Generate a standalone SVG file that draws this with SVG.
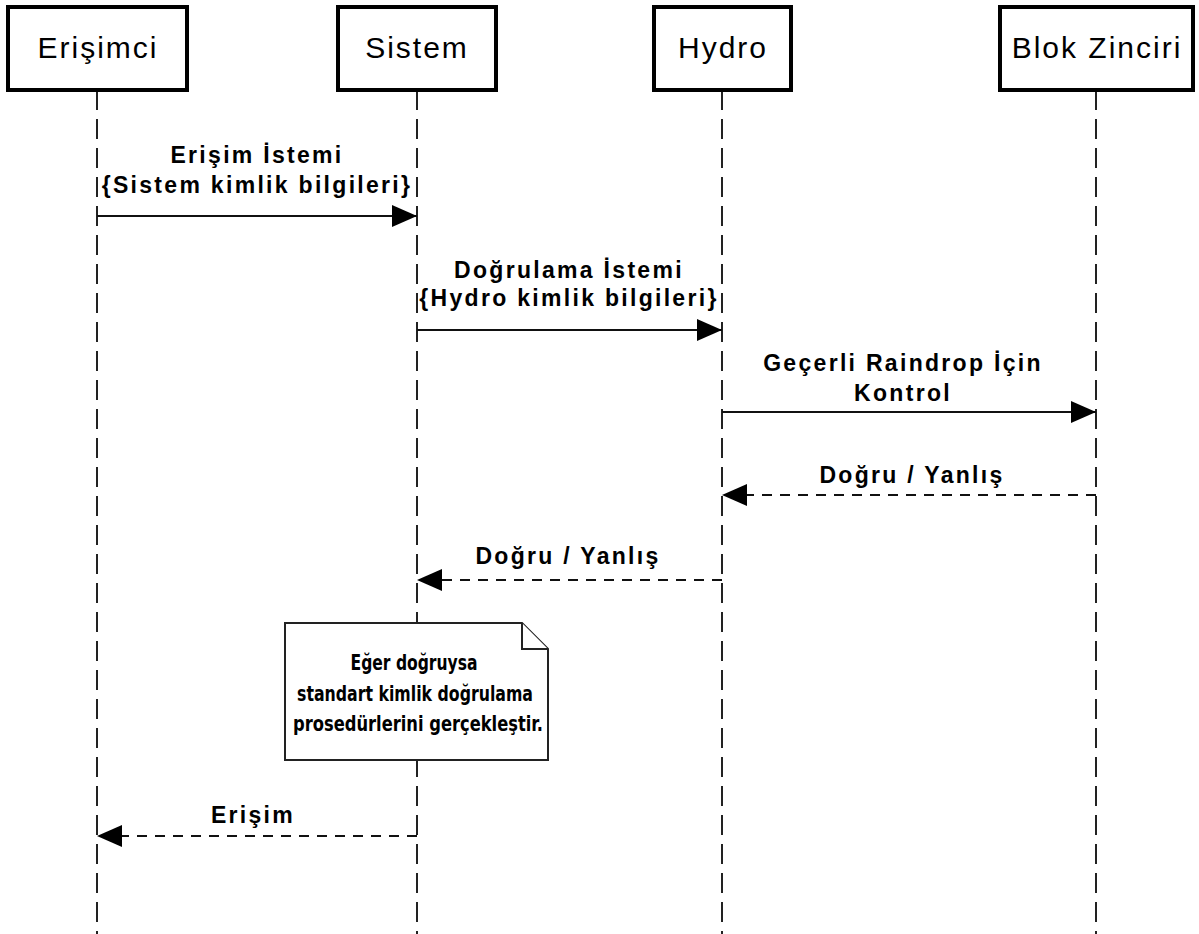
<svg xmlns="http://www.w3.org/2000/svg" width="1199" height="934" viewBox="0 0 1199 934">
<style>
.box{fill:#fff;stroke:#000;stroke-width:4}
.life{stroke:#222;stroke-width:2;stroke-dasharray:20 9;fill:none}
.msg{stroke:#111;stroke-width:2;fill:none}
.ret{stroke:#111;stroke-width:2;stroke-dasharray:10 8;fill:none}
.hd{font-family:"Liberation Sans",Arial,sans-serif;font-size:30px;letter-spacing:2px;text-anchor:middle;fill:#000}
.lb{font-family:"Liberation Sans",Arial,sans-serif;font-size:23px;font-weight:bold;letter-spacing:2.3px;text-anchor:middle;fill:#000}
.nt{font-family:"DejaVu Sans Condensed","Liberation Sans",sans-serif;font-size:22px;font-weight:bold;text-anchor:middle;fill:#000}
.note{fill:#fff;stroke:#222;stroke-width:2}
</style>
<defs>
<marker id="ah" viewBox="0 0 25 22" refX="25" refY="11" markerWidth="25" markerHeight="22" markerUnits="userSpaceOnUse" orient="auto">
<path d="M0,0 L25,11 L0,22 Z" fill="#000"/>
</marker>
</defs>
<g id="lifelines">
<line class="life" x1="97" y1="90" x2="97" y2="934"/>
<line class="life" x1="417" y1="90" x2="417" y2="934"/>
<line class="life" x1="722" y1="90" x2="722" y2="934"/>
<line class="life" x1="1096" y1="90" x2="1096" y2="934"/>
</g>
<g id="node-erisimci"><rect class="box" x="8" y="7" width="179" height="83"/><text class="hd" x="98" y="58">Erişimci</text></g>
<g id="node-sistem"><rect class="box" x="338" y="7" width="158" height="83"/><text class="hd" x="417" y="58">Sistem</text></g>
<g id="node-hydro"><rect class="box" x="654" y="7" width="137" height="83"/><text class="hd" x="723" y="58">Hydro</text></g>
<g id="node-blok"><rect class="box" x="1000" y="7" width="193" height="83"/><text class="hd" x="1097" y="58">Blok Zinciri</text></g>
<g id="connectors">
<line class="msg" x1="97" y1="216" x2="417" y2="216" marker-end="url(#ah)"/>
<line class="msg" x1="417" y1="330" x2="722" y2="330" marker-end="url(#ah)"/>
<line class="msg" x1="722" y1="412" x2="1096" y2="412" marker-end="url(#ah)"/>
<line class="ret" x1="1096" y1="495" x2="722" y2="495" marker-end="url(#ah)"/>
<line class="ret" x1="722" y1="580" x2="417" y2="580" marker-end="url(#ah)"/>
<line class="ret" x1="417" y1="836" x2="97" y2="836" marker-end="url(#ah)"/>
</g>
<g id="labels">
<text class="lb" x="257" y="163">Erişim İstemi</text>
<text class="lb" x="257" y="193">{Sistem kimlik bilgileri}</text>
<text class="lb" x="569" y="278">Doğrulama İstemi</text>
<text class="lb" x="569" y="306">{Hydro kimlik bilgileri}</text>
<text class="lb" x="903" y="371">Geçerli Raindrop İçin</text>
<text class="lb" x="903" y="401">Kontrol</text>
<text class="lb" x="912" y="483">Doğru / Yanlış</text>
<text class="lb" x="568" y="564">Doğru / Yanlış</text>
<text class="lb" x="253" y="823">Erişim</text>
</g>
<g id="note">
<path class="note" d="M285,623 L522,623 L548,649 L548,760 L285,760 Z"/>
<path class="note" d="M522,623 L522,649 L548,649" fill="none"/>
<text class="nt" x="414" y="670" textLength="127" lengthAdjust="spacingAndGlyphs">Eğer doğruysa</text>
<text class="nt" x="415" y="701" textLength="236" lengthAdjust="spacingAndGlyphs">standart kimlik doğrulama</text>
<text class="nt" x="418" y="731" textLength="250" lengthAdjust="spacingAndGlyphs">prosedürlerini gerçekleştir.</text>
</g>
</svg>
